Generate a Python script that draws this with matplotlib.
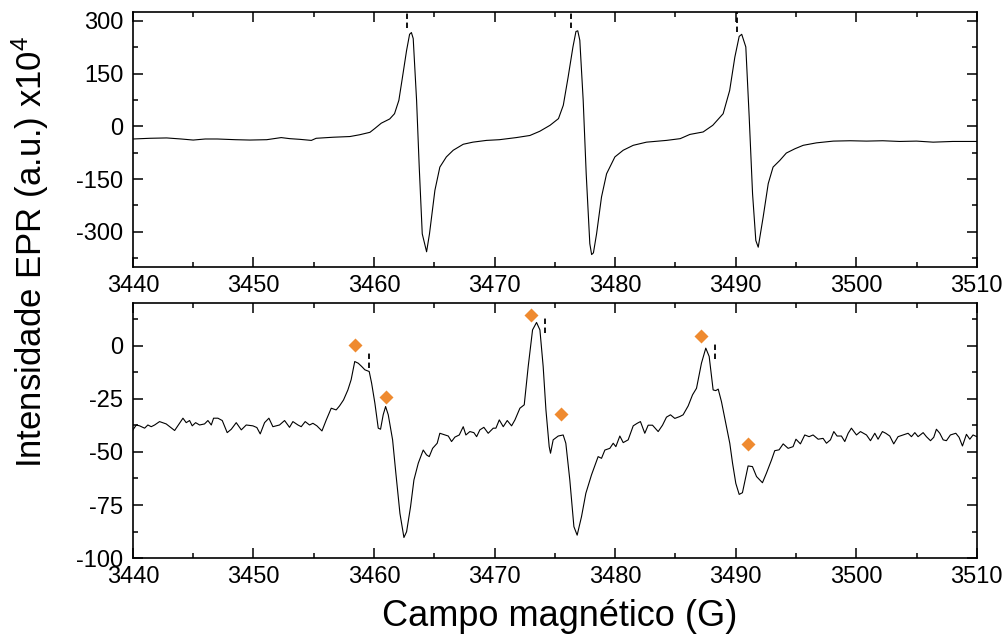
"""EPR spectra: two stacked panels sharing the magnetic field axis."""
import matplotlib
matplotlib.use("Agg")
import matplotlib.pyplot as plt
from matplotlib.ticker import MultipleLocator

plt.rcParams["font.family"] = ["Liberation Sans", "DejaVu Sans"]
plt.rcParams["mathtext.default"] = "regular"
plt.rcParams["axes.unicode_minus"] = False

# top panel: spectrum (field in G, intensity x10^4)
top_field = [
    3440.0, 3441.4, 3442.8, 3444.0, 3445.0, 3446.0, 3447.0, 3448.5, 3449.7,
    3451.1, 3452.3, 3453.0, 3453.85, 3454.8, 3455.2, 3456.6, 3458.0, 3458.8,
    3459.66, 3460.07, 3460.6, 3461.3, 3461.7, 3462.06, 3462.36, 3462.7,
    3462.95, 3463.1, 3463.25, 3463.53, 3463.75, 3464.0, 3464.36, 3464.6,
    3465.05, 3465.46, 3466.0, 3466.57, 3467.4, 3468.2, 3469.33, 3470.4,
    3471.8, 3472.93, 3473.75, 3474.6, 3475.3, 3475.7, 3476.1, 3476.5,
    3476.75, 3476.9, 3477.07, 3477.35, 3477.6, 3477.9, 3478.05, 3478.2,
    3478.46, 3478.87, 3479.29, 3479.98, 3480.67, 3481.5, 3482.6, 3484.26,
    3485.4, 3486.2, 3487.3, 3488.1, 3488.96, 3489.5, 3489.93, 3490.29,
    3490.5, 3490.84, 3491.12, 3491.4, 3491.67, 3491.87, 3492.28, 3492.7,
    3493.1, 3493.66, 3494.2, 3494.9, 3495.6, 3496.7, 3498.1, 3499.5,
    3500.85, 3502.2, 3503.6, 3505.0, 3506.38, 3508.0, 3510.0,
]
top_signal = [
    -36, -34, -33, -36, -39, -36, -36, -38, -39,
    -38, -32, -35, -37, -40, -34, -31, -29, -24,
    -17, -6, 9, 21, 36, 74, 140, 216,
    262, 267, 250, 74, -116, -306, -357, -306,
    -182, -116, -87, -68, -51, -45, -40, -38,
    -32, -26, -14, 3, 22, 60, 140, 226,
    270, 272, 245, 74, -135, -334, -365, -360,
    -306, -201, -135, -87, -68, -54, -45, -40,
    -35, -23, -16, 3, 36, 102, 197, 256,
    262, 226, 27, -192, -325, -344, -258, -163,
    -116, -97, -76, -64, -54, -47, -42, -41,
    -42, -41, -43, -42, -45, -43, -43,
]

# bottom panel
bot_field = [
    3440.00, 3440.28, 3440.55, 3440.97, 3441.24, 3441.52, 3441.80, 3442.21,
    3442.76, 3443.46, 3444.15, 3444.42, 3444.70, 3444.92, 3445.20, 3445.53,
    3445.94, 3446.22, 3446.50, 3446.69, 3447.05, 3447.41, 3447.82, 3448.16,
    3448.57, 3448.99, 3449.40, 3449.95, 3450.28, 3450.56, 3450.92, 3451.28,
    3451.61, 3452.16, 3452.58, 3452.99, 3453.27, 3453.69, 3453.96, 3454.29,
    3454.65, 3454.93, 3455.26, 3455.68, 3456.04, 3456.45, 3456.86, 3457.14,
    3457.47, 3457.83, 3458.10, 3458.40, 3458.69, 3458.97, 3459.24, 3459.60,
    3459.80, 3460.07, 3460.35, 3460.54, 3460.76, 3460.96, 3461.18, 3461.54,
    3461.81, 3462.15, 3462.48, 3462.70, 3463.03, 3463.31, 3463.67, 3464.08,
    3464.36, 3464.58, 3464.86, 3465.24, 3465.46, 3465.88, 3466.16, 3466.43,
    3466.71, 3467.07, 3467.40, 3467.62, 3467.95, 3468.28, 3468.51, 3468.78,
    3469.11, 3469.47, 3469.89, 3470.11, 3470.39, 3470.72, 3471.05, 3471.41,
    3471.69, 3472.10, 3472.46, 3472.79, 3473.15, 3473.48, 3473.76, 3474.03,
    3474.26, 3474.53, 3474.64, 3474.86, 3475.28, 3475.69, 3475.91, 3476.24,
    3476.58, 3476.85, 3477.21, 3477.57, 3478.04, 3478.59, 3478.87, 3479.15,
    3479.56, 3479.84, 3480.06, 3480.39, 3480.67, 3481.08, 3481.50, 3481.83,
    3482.10, 3482.46, 3482.74, 3483.10, 3483.57, 3483.93, 3484.26, 3484.59,
    3484.95, 3485.37, 3485.64, 3486.06, 3486.42, 3486.75, 3487.16, 3487.52,
    3487.80, 3488.13, 3488.35, 3488.55, 3488.82, 3489.18, 3489.51, 3489.74,
    3490.01, 3490.29, 3490.56, 3491.03, 3491.39, 3491.73, 3492.22, 3492.55,
    3492.97, 3493.24, 3493.60, 3493.94, 3494.35, 3494.76, 3495.00, 3495.37,
    3495.73, 3496.09, 3496.42, 3496.84, 3497.25, 3497.53, 3497.86, 3498.14,
    3498.41, 3498.77, 3499.05, 3499.33, 3499.60, 3500.02, 3500.35, 3500.85,
    3501.18, 3501.54, 3501.81, 3502.17, 3502.45, 3502.78, 3503.11, 3503.47,
    3503.89, 3504.30, 3504.58, 3504.86, 3505.13, 3505.55, 3505.82, 3506.16,
    3506.43, 3506.65, 3506.93, 3507.21, 3507.48, 3507.81, 3508.26, 3508.53,
    3508.81, 3509.14, 3509.42, 3509.69, 3510.00,
]
bot_signal = [
    -39.6, -37.3, -37.7, -38.8, -37.3, -38.1, -37.3, -35.7,
    -36.8, -39.9, -34.1, -36.2, -35.2, -37.7, -36.2, -37.3,
    -36.8, -35.2, -37.3, -34.1, -34.1, -35.2, -40.9, -39.3,
    -36.2, -39.6, -37.3, -37.7, -38.5, -41.5, -36.2, -34.1,
    -38.1, -37.3, -35.2, -38.4, -35.7, -37.3, -38.1, -35.7,
    -37.3, -36.5, -37.7, -40.1, -34.9, -29.4, -30.2, -28.3,
    -25.5, -20.8, -16.0, -7.4, -8.2, -9.7, -11.3, -12.1,
    -17.6, -27.0, -38.8, -39.3, -32.5, -28.6, -32.5, -44.3,
    -60.0, -79.0, -90.3, -87.6, -75.8, -63.2, -55.3, -49.1,
    -51.4, -52.2, -48.3, -45.9, -41.2, -42.0, -42.5, -45.1,
    -43.0, -42.0, -38.1, -42.0, -40.4, -40.9, -42.8, -39.6,
    -38.4, -41.2, -38.8, -38.8, -34.9, -38.1, -35.2, -37.7,
    -34.9, -29.4, -27.8, -9.7, 7.5, 11.0, 7.5, -9.7,
    -30.2, -47.5, -50.6, -44.3, -42.5, -42.0, -45.9, -63.2,
    -85.2, -89.2, -80.5, -69.5, -60.8, -52.2, -53.0, -49.1,
    -48.3, -45.9, -47.5, -42.5, -45.6, -44.3, -37.7, -36.5,
    -35.7, -41.2, -37.4, -37.4, -40.4, -37.4, -33.6, -32.5,
    -34.2, -33.3, -32.5, -28.3, -23.1, -20.0, -8.2, -1.1,
    -5.0, -20.8, -21.1, -20.4, -26.3, -36.5, -45.9, -55.3,
    -64.8, -70.0, -69.2, -56.6, -56.9, -61.6, -64.5, -60.0,
    -53.8, -49.4, -49.0, -46.2, -48.3, -47.5, -44.0, -46.2,
    -42.0, -42.8, -42.0, -44.0, -43.6, -45.9, -44.3, -40.4,
    -42.5, -42.5, -45.1, -41.2, -38.8, -42.0, -40.4, -42.0,
    -44.7, -41.2, -44.0, -40.4, -41.2, -42.5, -46.2, -42.8,
    -42.0, -41.2, -42.8, -40.9, -42.8, -40.9, -42.8, -44.7,
    -43.1, -39.3, -41.2, -44.3, -44.7, -42.0, -41.2, -43.1,
    -47.2, -41.7, -44.0, -42.0, -42.8,
]

# orange diamonds marking the extra lines
diamond_field = [3458.4, 3461.0, 3473.0, 3475.5, 3487.1, 3491.0]
diamond_signal = [0.5, -24.0, 14.6, -32.0, 4.4, -46.4]

# short dashed guides above the main lines
top_guide_field = [3462.75, 3476.35, 3490.1]
top_guide_lo = [280, 280, 268]
top_guide_hi = [330, 330, 330]
bot_guide_field = [3459.6, 3474.2, 3488.3]
bot_guide_lo = [-10.5, 6.0, -6.3]
bot_guide_hi = [-2.7, 14.0, 1.6]

fig = plt.figure(figsize=(10.07, 6.4), dpi=100)
ax1 = fig.add_axes([0.132, 0.583, 0.838, 0.398])
ax2 = fig.add_axes([0.132, 0.128, 0.838, 0.398])

ax1.plot(top_field, top_signal, color="black", lw=0.8)
ax1.vlines(top_guide_field, top_guide_lo, top_guide_hi, colors="black",
           linestyles=(0, (3, 2)), lw=1.3)
ax1.set_ylim(-400, 325)
ax1.yaxis.set_major_locator(MultipleLocator(150))
ax1.yaxis.set_minor_locator(MultipleLocator(75))

ax2.plot(bot_field, bot_signal, color="black", lw=0.8)
ax2.vlines(bot_guide_field, bot_guide_lo, bot_guide_hi, colors="black",
           linestyles=(0, (3, 2)), lw=1.3)
ax2.plot(diamond_field, diamond_signal, ls="none", marker="D", ms=7.3,
         color="#EF8A2F", mec="none")
ax2.set_ylim(-100, 20)
ax2.yaxis.set_major_locator(MultipleLocator(25))
ax2.yaxis.set_minor_locator(MultipleLocator(12.5))

for ax in (ax1, ax2):
    ax.set_xlim(3440, 3510)
    ax.xaxis.set_major_locator(MultipleLocator(10))
    ax.xaxis.set_minor_locator(MultipleLocator(5))
    ax.tick_params(which="both", direction="in", top=True, right=True,
                   width=1.1, labelsize=17)
    ax.tick_params(which="major", length=7.5)
    ax.tick_params(which="minor", length=3.8)
    ax.tick_params(axis="x", pad=5.5)
    ax.tick_params(axis="y", pad=7)
    for sp in ax.spines.values():
        sp.set_linewidth(1.2)

fig.text(0.03, 0.606, r"Intensidade EPR (a.u.) x10$^{4}$", rotation=90,
         ha="center", va="center", fontsize=25)
fig.text(0.556, 0.036, "Campo magnético (G)", ha="center", va="center",
         fontsize=26)

fig.savefig("out.png", dpi=100)
